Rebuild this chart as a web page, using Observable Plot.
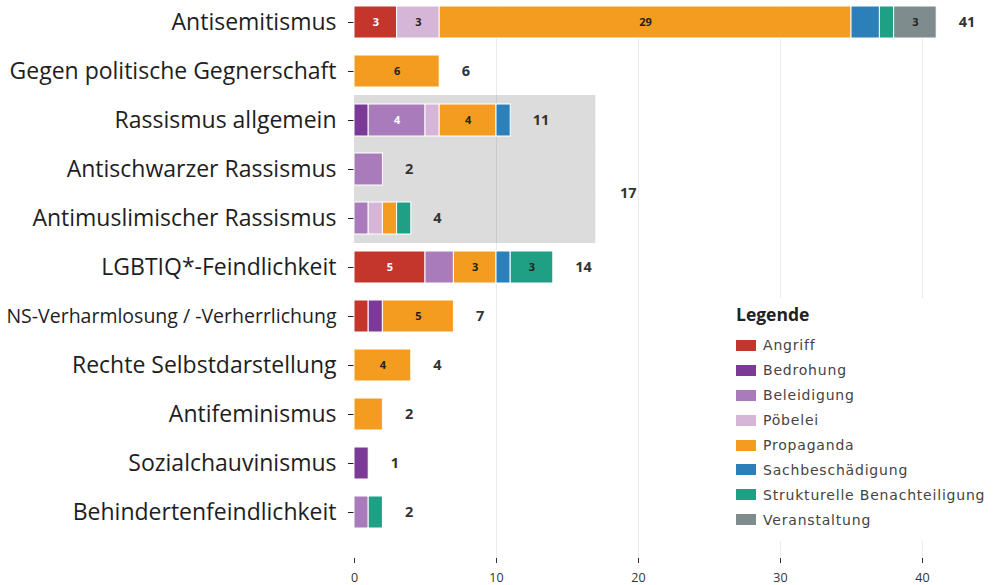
<!DOCTYPE html>
<html>
<head>
<meta charset="utf-8">
<script src="https://cdn.jsdelivr.net/npm/d3@7"></script>
<script src="https://cdn.jsdelivr.net/npm/@observablehq/plot@0.6"></script>
<style>
  html, body { margin: 0; padding: 0; background: #fff; }
  #wrap { position: relative; width: 1003px; height: 585px; overflow: hidden; font-family: "Open Sans", sans-serif; }
  #legend { position: absolute; left: 712px; top: 298px; width: 291px; height: 243px; background: #fff; }
  #legend .title { position: absolute; left: 24px; top: 4px; font-weight: bold; font-size: 17.5px; color: #222; line-height: 24px; }
  #legend .items { position: absolute; left: 24px; top: 35px; }
  #legend .item { display: flex; align-items: center; height: 24.9px; font-family: "DejaVu Sans", sans-serif; font-size: 14px; letter-spacing: 0.8px; color: #444; white-space: nowrap; }
  #legend .sw { width: 20px; height: 11px; margin-right: 7px; }
</style>
</head>
<body>
<div id="wrap">
  <div id="chart"></div>
  <div id="legend"><div class="title">Legende</div><div class="items"></div></div>
</div>
<script>
// Categories (top to bottom)
const categories = [
  "Antisemitismus",
  "Gegen politische Gegnerschaft",
  "Rassismus allgemein",
  "Antischwarzer Rassismus",
  "Antimuslimischer Rassismus",
  "LGBTIQ*-Feindlichkeit",
  "NS-Verharmlosung / -Verherrlichung",
  "Rechte Selbstdarstellung",
  "Antifeminismus",
  "Sozialchauvinismus",
  "Behindertenfeindlichkeit"
];

// Incident types (legend order)
const types = ["Angriff", "Bedrohung", "Beleidigung", "Pöbelei", "Propaganda", "Sachbeschädigung", "Strukturelle Benachteiligung", "Veranstaltung"];
const typeColors = ["#c4352c", "#7b3a96", "#a97bba", "#d6b6d8", "#f39c1f", "#2b80b9", "#1fa084", "#7f8c8d"];

// Series values per type, aligned with categories
const angriff        = [3, 0, 0, 0, 0, 5, 1, 0, 0, 0, 0];
const bedrohung      = [0, 0, 1, 0, 0, 0, 1, 0, 0, 1, 0];
const beleidigung    = [0, 0, 4, 2, 1, 2, 0, 0, 0, 0, 1];
const poebelei       = [3, 0, 1, 0, 1, 0, 0, 0, 0, 0, 0];
const propaganda     = [29, 6, 4, 0, 1, 3, 5, 4, 2, 0, 0];
const sachbesch      = [2, 0, 1, 0, 0, 1, 0, 0, 0, 0, 0];
const strukturell    = [1, 0, 0, 0, 1, 3, 0, 0, 0, 0, 1];
const veranstaltung  = [3, 0, 0, 0, 0, 0, 0, 0, 0, 0, 0];

// Racism group (highlighted box) and its total
const groupCats = ["Rassismus allgemein", "Antischwarzer Rassismus", "Antimuslimischer Rassismus"];
const groupTotal = 17;

// Axis ticks
const xTicks = [0, 10, 20, 30, 40];

const seriesByType = [angriff, bedrohung, beleidigung, poebelei, propaganda, sachbesch, strukturell, veranstaltung];
const data = [];
categories.forEach((cat, ci) => {
  types.forEach((t, ti) => {
    const v = seriesByType[ti][ci];
    if (v > 0) data.push({cat, type: t, value: v});
  });
});

const whiteLabelTypes = ["Angriff", "Beleidigung", "Bedrohung"];
const stackOpts = {y: "cat", x: "value", z: "type", order: types};

const chart = Plot.plot({
  width: 1003,
  height: 585,
  marginLeft: 354,
  marginRight: 10,
  marginTop: 5,
  marginBottom: 27,
  style: {fontFamily: "Open Sans, sans-serif", background: "#fff"},
  x: {domain: [0, 45], range: [354, 993]},
  y: {domain: categories, range: [5, 529], paddingInner: 0.35, paddingOuter: 0, axis: null},
  color: {domain: types, range: typeColors},
  marks: [
    // highlighted group box
    Plot.barX(groupCats, {y: d => d, x1: () => 0, x2: () => groupTotal, fill: "#dcdcdc", insetTop: -9, insetBottom: -9}),
    Plot.gridX(xTicks.slice(1), {stroke: "#000", strokeOpacity: 0.08, strokeWidth: 1}),
    Plot.axisX({ticks: xTicks, tickSize: 5, tickPadding: 10, fontSize: 12.5, color: "#333", label: null}),
    Plot.axisY({tickSize: 6, tickPadding: 12, label: null, color: "#1e1e1e",
      fontSize: d => d.startsWith("NS-") ? 19.5 : 23}),
    Plot.barX(data, Plot.stackX({...stackOpts, fill: "type", stroke: "#fff", strokeWidth: 1})),
    Plot.text(data, Plot.stackX({...stackOpts,
      text: d => (d.value >= 3 && whiteLabelTypes.includes(d.type)) ? String(d.value) : "",
      fill: "#fff", fontWeight: "bold", fontSize: 11})),
    Plot.text(data, Plot.stackX({...stackOpts,
      text: d => (d.value >= 3 && !whiteLabelTypes.includes(d.type)) ? String(d.value) : "",
      fill: "#222", fontWeight: "bold", fontSize: 11})),
    // totals
    Plot.text(data, Plot.groupY({x: "sum", text: "sum"}, {y: "cat", x: "value", text: "value", dx: 22, textAnchor: "start", fontWeight: "bold", fontSize: 14.5, fill: "#333"})),
    // group total
    Plot.text([groupTotal], {y: () => groupCats[1], x: d => d, text: d => String(d), dx: 24, dy: 24, textAnchor: "start", fontWeight: "bold", fontSize: 14.5, fill: "#333"})
  ]
});
document.getElementById("chart").appendChild(chart);

const items = document.querySelector("#legend .items");
types.forEach((t, i) => {
  const row = document.createElement("div");
  row.className = "item";
  const sw = document.createElement("span");
  sw.className = "sw";
  sw.style.background = typeColors[i];
  const lab = document.createElement("span");
  lab.textContent = t;
  row.appendChild(sw);
  row.appendChild(lab);
  items.appendChild(row);
});
</script>
</body>
</html>
